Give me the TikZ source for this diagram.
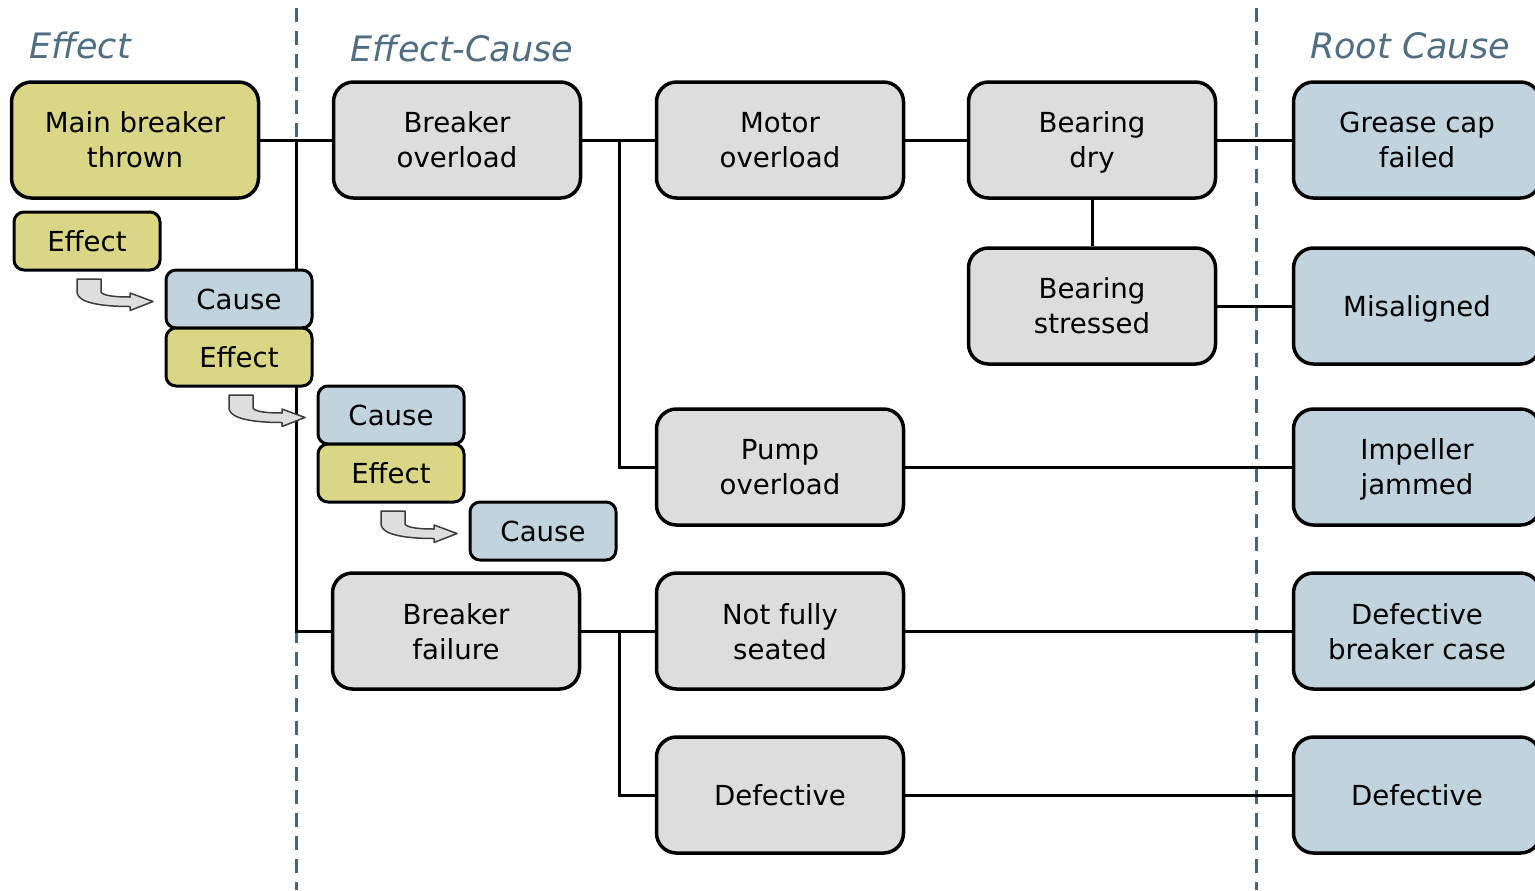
\documentclass[tikz,border=0pt]{standalone}
\usepackage{fontspec}
\setmainfont{DejaVu Sans}
\usetikzlibrary{backgrounds}

\definecolor{effY}{RGB}{217,215,133}
\definecolor{midG}{RGB}{221,221,221}
\definecolor{rootB}{RGB}{193,211,220}
\definecolor{headC}{RGB}{79,110,130}
\definecolor{sepC}{RGB}{74,100,120}
\definecolor{arrF}{RGB}{222,222,222}
\definecolor{arrD}{RGB}{60,60,60}

\tikzset{
  box/.style={draw=black, line width=1.75pt, rounded corners=10pt,
    minimum width=123.5pt, minimum height=58pt, inner sep=0pt, align=center,
    text depth=0pt, font=\fontsize{13.8}{17.5}\selectfont},
  effbox/.style={box, fill=effY},
  midbox/.style={box, fill=midG},
  rootbox/.style={box, fill=rootB},
  tag/.style={draw=black, line width=1.5pt, rounded corners=5pt,
    minimum width=73pt, minimum height=29pt, inner sep=0pt, text depth=0pt,
    font=\fontsize{13.8}{17.5}\selectfont},
  efftag/.style={tag, fill=effY},
  cautag/.style={tag, fill=rootB},
  head/.style={text=headC, inner sep=0pt, font=\fontsize{17.5}{20}\selectfont\itshape},
  sep/.style={draw=sepC, line width=1.5pt, dash pattern=on 7pt off 4.5pt},
  link/.style={draw=black, line width=1.5pt},
  turn/.pic={
    \draw[line width=0.75pt, draw=arrD, fill=arrF, line join=round]
      (0,0) -- (24,0) -- (24,13) .. controls (26,17) and (40,18) .. (53,18)
      -- (53,14) -- (76,22.5) -- (53,31.5) -- (53,27.5)
      .. controls (25,27.5) and (2,24) .. (0,14) -- cycle;
  }
}

\begin{document}
\begin{tikzpicture}[x=0.5pt, y=-0.5pt]
\useasboundingbox (0,0) rectangle (1535,890);

% column headings
\node[head] (hEffect) at (80,45) {Effect};
\node[head] (hEC) at (462,48) {Effect-Cause};
\node[head] (hRoot) at (1410,46) {Root Cause};

% effect
\node[effbox] (main) at (135,140) {Main breaker\\thrown};

% effect-cause chain
\node[midbox] (bo)  at (457,140) {Breaker\\overload};
\node[midbox] (mo)  at (780,140) {Motor\\overload};
\node[midbox] (bd)  at (1092,140) {Bearing\\dry};
\node[midbox] (bs)  at (1092,306) {Bearing\\stressed};
\node[midbox] (po)  at (780,467) {Pump\\overload};
\node[midbox] (bf)  at (456,631) {Breaker\\failure};
\node[midbox] (nfs) at (780,631) {Not fully\\seated};
\node[midbox] (dm)  at (780,795) {Defective};

% root causes
\node[rootbox] (gc)  at (1417,140) {Grease cap\\failed};
\node[rootbox] (mis) at (1417,306) {Misaligned};
\node[rootbox] (ij)  at (1417,467) {Impeller\\jammed};
\node[rootbox] (dbc) at (1417,631) {Defective\\breaker case};
\node[rootbox] (dr)  at (1417,795) {Defective};

% column separators and branch points
\coordinate (s1top) at (296,8);
\coordinate (s1bot) at (296,890);
\coordinate (s2top) at (1256,8);
\coordinate (s2bot) at (1256,890);
\coordinate (t1) at (296,140);
\coordinate (t2) at (619,140);
\coordinate (t3) at (619,631);

\begin{scope}[on background layer]
  \draw[sep] (s1top) -- (s1bot);
  \draw[sep] (s2top) -- (s2bot);
  \draw[link] (main.east) -- (bo.west);
  \draw[link] (t1) |- (bf.west);
  \draw[link] (bo.east) -- (mo.west);
  \draw[link] (t2) |- (po.west);
  \draw[link] (mo.east) -- (bd.west);
  \draw[link] (bd.south) -- (bs.north);
  \draw[link] (bd.east) -- (gc.west);
  \draw[link] (bs.east) -- (mis.west);
  \draw[link] (po.east) -- (ij.west);
  \draw[link] (bf.east) -- (nfs.west);
  \draw[link] (t3) |- (dm.west);
  \draw[link] (nfs.east) -- (dbc.west);
  \draw[link] (dm.east) -- (dr.west);
\end{scope}

% legend: effect -> cause cascade
\node[efftag] (e1) at (87,241) {Effect};
\node[cautag] (c1) at (239,299) {Cause};
\node[efftag] (e2) at (239,357) {Effect};
\node[cautag] (c2) at (391,415) {Cause};
\node[efftag] (e3) at (391,473) {Effect};
\node[cautag] (c3) at (543,531) {Cause};

\pic at (77,279) {turn};
\pic at (229,395) {turn};
\pic at (381,511) {turn};
\end{tikzpicture}
\end{document}
